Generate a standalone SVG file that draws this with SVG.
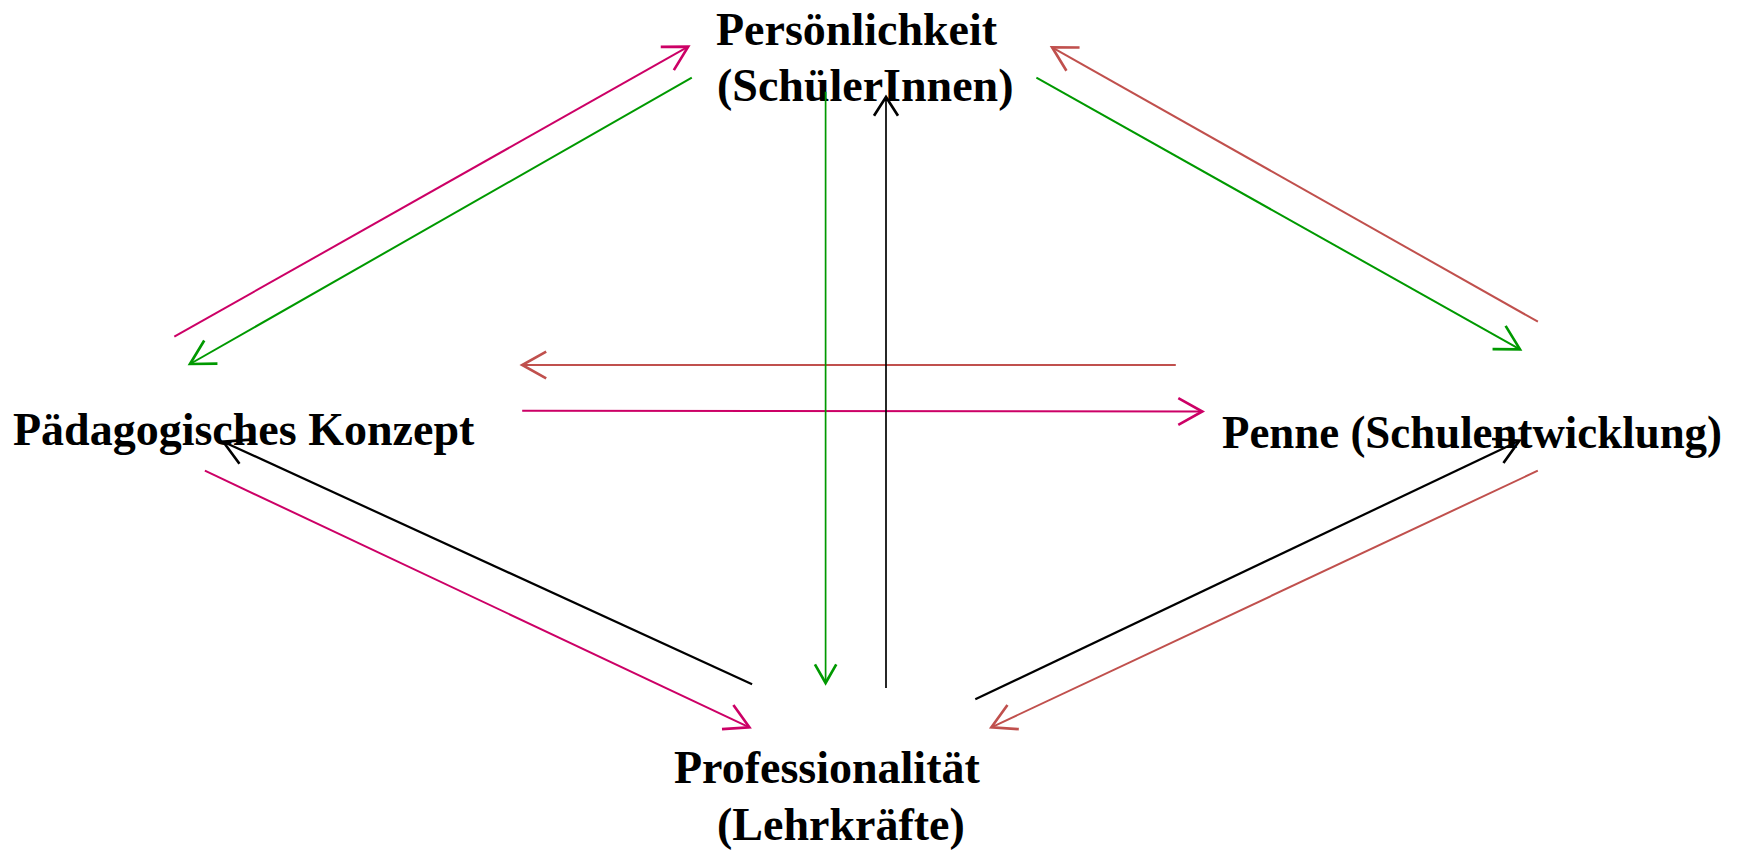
<svg xmlns="http://www.w3.org/2000/svg" width="1742" height="852" viewBox="0 0 1742 852">
  <style>
    .lbl { font-family: "Liberation Serif", "Times New Roman", serif; font-weight: bold; font-size: 46px; fill: #000000; }
    .c { fill: none; stroke-width: 2; }
    .mag { stroke: #CC0066; }
    .grn { stroke: #009900; }
    .red { stroke: #C0504D; }
    .blk { stroke: #000000; }
    .thick { stroke-width: 2.2; }
    .thin { stroke-width: 1.7; }
    .head { fill: none; stroke-width: 2; stroke-linejoin: miter; }
  </style>
  <defs>
    <marker id="aMag" markerUnits="userSpaceOnUse" orient="auto" refX="0" refY="0" markerWidth="40" markerHeight="40" viewBox="-25 -15 30 30" overflow="visible">
      <path class="head" stroke="#CC0066" d="M-18,-10 L0,0 L-18,10"/>
    </marker>
    <marker id="aGrn" markerUnits="userSpaceOnUse" orient="auto" refX="0" refY="0" markerWidth="40" markerHeight="40" viewBox="-25 -15 30 30" overflow="visible">
      <path class="head" stroke="#009900" d="M-18,-10 L0,0 L-18,10"/>
    </marker>
    <marker id="aRed" markerUnits="userSpaceOnUse" orient="auto" refX="0" refY="0" markerWidth="40" markerHeight="40" viewBox="-25 -15 30 30" overflow="visible">
      <path class="head" stroke="#C0504D" d="M-18,-10 L0,0 L-18,10"/>
    </marker>
    <marker id="aBlk" markerUnits="userSpaceOnUse" orient="auto" refX="0" refY="0" markerWidth="40" markerHeight="40" viewBox="-25 -15 30 30" overflow="visible">
      <path class="head" stroke="#000000" d="M-18,-10 L0,0 L-18,10"/>
    </marker>
    <marker id="aGrnS" markerUnits="userSpaceOnUse" orient="auto" refX="0" refY="0" markerWidth="40" markerHeight="40" viewBox="-25 -15 30 30" overflow="visible">
      <path class="head" stroke="#009900" stroke-width="1.7" d="M-14,-8 L0,0 L-14,8"/>
    </marker>
    <marker id="aBlkS" markerUnits="userSpaceOnUse" orient="auto" refX="0" refY="0" markerWidth="40" markerHeight="40" viewBox="-25 -15 30 30" overflow="visible">
      <path class="head" stroke="#000000" stroke-width="1.7" d="M-14,-9 L0,0 L-14,9"/>
    </marker>
  </defs>
  <rect x="0" y="0" width="1742" height="852" fill="#FFFFFF"/>

  <g id="node-persoenlichkeit">
    <text class="lbl" x="716" y="45">Persönlichkeit</text>
    <text class="lbl" x="717" y="101">(SchülerInnen)</text>
  </g>
  <g id="node-paedagogisches-konzept">
    <text class="lbl" x="13" y="445">Pädagogisches Konzept</text>
  </g>
  <g id="node-penne">
    <text class="lbl" x="1222" y="448" textLength="500" lengthAdjust="spacingAndGlyphs">Penne (Schulentwicklung)</text>
  </g>
  <g id="node-professionalitaet">
    <text class="lbl" x="674" y="783">Professionalität</text>
    <text class="lbl" x="717" y="840">(Lehrkräfte)</text>
  </g>

  <g id="connectors">
    <line class="c mag" x1="174.3" y1="336.7" x2="688.2" y2="46.7" marker-end="url(#aMag)"/>
    <line class="c grn" x1="691.8" y1="77.7" x2="190" y2="364" marker-end="url(#aGrn)"/>
    <line class="c grn" x1="1036.4" y1="77.7" x2="1520" y2="349.3" marker-end="url(#aGrn)"/>
    <line class="c red" x1="1537.9" y1="321.7" x2="1052.1" y2="47.3" marker-end="url(#aRed)"/>
    <line class="c red" x1="1175.8" y1="365" x2="522.2" y2="365" marker-end="url(#aRed)"/>
    <line class="c mag" x1="522.2" y1="410.7" x2="1202.3" y2="411.5" marker-end="url(#aMag)"/>
    <line class="c blk thick" x1="752.1" y1="684.3" x2="223.2" y2="441.7" marker-end="url(#aBlk)"/>
    <line class="c mag" x1="204.9" y1="470.7" x2="749.4" y2="727.3" marker-end="url(#aMag)"/>
    <line class="c blk thick" x1="975.3" y1="699.3" x2="1519.4" y2="440.7" marker-end="url(#aBlk)"/>
    <line class="c red" x1="1537.8" y1="470.7" x2="991.4" y2="727.3" marker-end="url(#aRed)"/>
    <line class="c grn thin" x1="825.6" y1="91.7" x2="825.6" y2="683" marker-end="url(#aGrnS)"/>
    <line class="c blk thin" x1="886" y1="688" x2="886" y2="97" marker-end="url(#aBlkS)"/>
  </g>
</svg>
